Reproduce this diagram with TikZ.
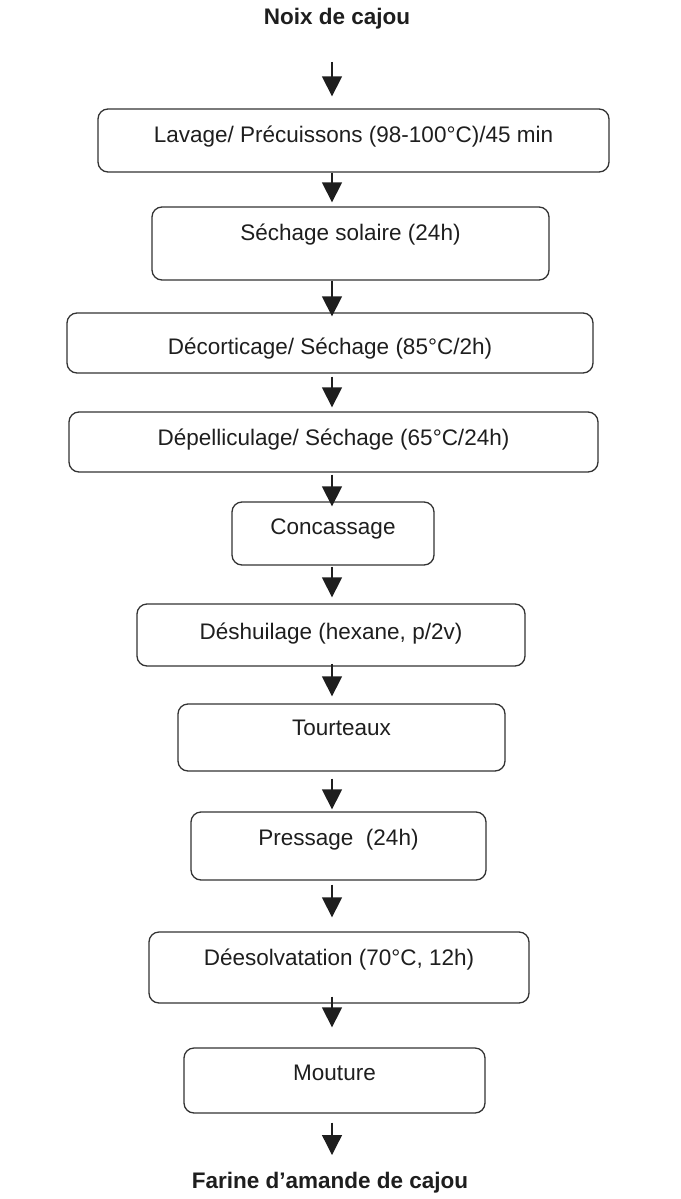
\documentclass[tikz,border=0pt]{standalone}
\usepackage{fontspec}
\setmainfont{Liberation Sans}
\usetikzlibrary{arrows.meta}
\definecolor{ink}{HTML}{1E1E1E}
\definecolor{edge}{HTML}{333333}
\begin{document}
\begin{tikzpicture}[x=1pt,y=-1pt,
  box/.style={draw=edge, line width=1.3pt, rounded corners=10pt, inner xsep=0pt, inner ysep=0pt,
    anchor=base, text=ink, font=\fontsize{22.5}{26}\selectfont},
  endtext/.style={anchor=base, inner sep=0pt, text=ink, font=\fontsize{22.5}{26}\selectfont\bfseries},
  arr/.style={draw=ink, line width=1.3pt, -{Triangle[width=20pt,length=20pt]}}]
\useasboundingbox (0,0) rectangle (680,1199);
\coordinate (axis) at (332,0);
\node[endtext] (t0) at (337,25) {Noix de cajou};
\node[box, minimum width=511pt, text height=33pt, text depth=30pt] (b1) at (353.5,142) {Lavage/ Précuissons (98-100°C)/45 min};
\node[box, minimum width=397pt, text height=33pt, text depth=40pt] (b2) at (350.5,240) {Séchage solaire (24h)};
\node[box, minimum width=526pt, text height=41pt, text depth=19pt] (b3) at (330,354) {Décorticage/ Séchage (85°C/2h)};
\node[box, minimum width=529pt, text height=33pt, text depth=27pt] (b4) at (333.5,445) {Dépelliculage/ Séchage (65°C/24h)};
\node[box, minimum width=202pt, text height=32pt, text depth=31pt] (b5) at (333,534) {Concassage};
\node[box, minimum width=388pt, text height=35pt, text depth=27pt] (b6) at (331,639) {Déshuilage (hexane, p/2v)};
\node[box, minimum width=327pt, text height=31pt, text depth=36pt] (b7) at (341.5,735) {Tourteaux};
\node[box, minimum width=295pt, text height=33pt, text depth=35pt] (b8) at (338.5,845) {Pressage\ \ (24h)};
\node[box, minimum width=380pt, text height=33pt, text depth=38pt] (b9) at (339,965) {Déesolvatation (70°C, 12h)};
\node[box, minimum width=301pt, text height=32pt, text depth=33pt] (b10) at (334.5,1080) {Mouture};
\node[endtext] (t1) at (330,1188) {Farine d’amande de cajou};
\draw[arr, shorten <=37pt, shorten >=12pt] (t0.base -| axis) -- (b1.north -| axis);
\draw[arr, shorten >=4pt] (b1.south -| axis) -- (b2.north -| axis);
\draw[arr, shorten >=-4pt] (b2.south -| axis) -- (b3.north -| axis);
\draw[arr, shorten <=3pt, shorten >=4pt] (b3.south -| axis) -- (b4.north -| axis);
\draw[arr, shorten <=2pt, shorten >=-5pt] (b4.south -| axis) -- (b5.north -| axis);
\draw[arr, shorten <=1pt, shorten >=6pt] (b5.south -| axis) -- (b6.north -| axis);
\draw[arr, shorten <=-3pt, shorten >=7pt] (b6.south -| axis) -- (b7.north -| axis);
\draw[arr, shorten <=7pt, shorten >=2pt] (b7.south -| axis) -- (b8.north -| axis);
\draw[arr, shorten <=4pt, shorten >=14pt] (b8.south -| axis) -- (b9.north -| axis);
\draw[arr, shorten <=-7pt, shorten >=20pt] (b9.south -| axis) -- (b10.north -| axis);
\draw[arr, shorten <=9pt, shorten >=33pt] (b10.south -| axis) -- (t1.base -| axis);
\end{tikzpicture}
\end{document}
